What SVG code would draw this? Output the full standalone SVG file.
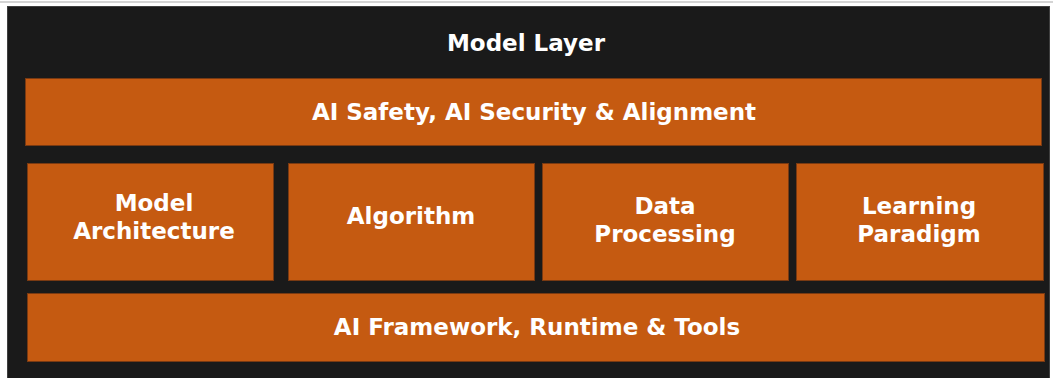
<svg xmlns="http://www.w3.org/2000/svg" width="1053" height="378" viewBox="0 0 1053 378">
<style>
.box{fill:#C55A11;stroke:#7A3A12;stroke-width:1}
.t{font-family:"DejaVu Sans",sans-serif;font-weight:bold;font-size:23px;fill:#FFFFFF;text-anchor:middle}
</style>
<rect x="0" y="0" width="1053" height="378" fill="#FFFFFF"/>
<rect x="0" y="1" width="1053" height="2" fill="#D4D4D4"/>
<rect x="7.5" y="6.5" width="1042" height="380" fill="#1A1A1A" stroke="#3F3F3F" stroke-width="1"/>
<g id="title"><text class="t" x="526" y="51">Model Layer</text></g>
<g id="safety">
<rect class="box" x="25.5" y="78.5" width="1016" height="67"/>
<text class="t" x="534" y="120">AI Safety, AI Security &amp; Alignment</text>
</g>
<g id="arch">
<rect class="box" x="27.5" y="163.5" width="246" height="117"/>
<text class="t" x="154" y="211">Model</text>
<text class="t" x="154" y="239">Architecture</text>
</g>
<g id="algo">
<rect class="box" x="288.5" y="163.5" width="246" height="117"/>
<text class="t" x="411" y="224">Algorithm</text>
</g>
<g id="data">
<rect class="box" x="542.5" y="163.5" width="246" height="117"/>
<text class="t" x="665" y="214">Data</text>
<text class="t" x="665" y="242">Processing</text>
</g>
<g id="learning">
<rect class="box" x="796.5" y="163.5" width="247" height="117"/>
<text class="t" x="919" y="214">Learning</text>
<text class="t" x="919" y="242">Paradigm</text>
</g>
<g id="framework">
<rect class="box" x="27.5" y="293.5" width="1017" height="68"/>
<text class="t" x="537" y="335">AI Framework, Runtime &amp; Tools</text>
</g>
<g id="connectors"></g>
</svg>
